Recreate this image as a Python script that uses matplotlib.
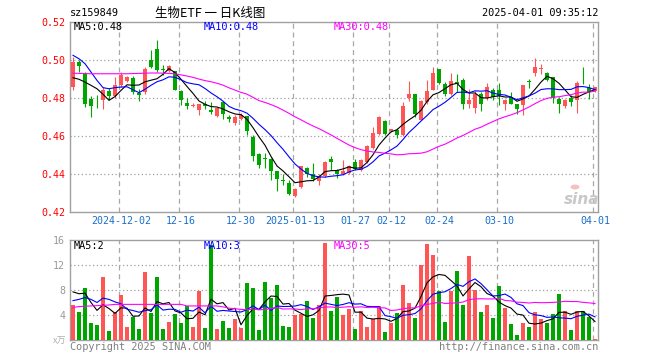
import numpy as np
import pandas as pd
import matplotlib
matplotlib.use("Agg")
import matplotlib.pyplot as plt
from matplotlib.patches import Circle

plt.rcParams['font.family'] = ['DejaVu Sans Mono', 'Noto Sans CJK SC']

# daily OHLC, 2024-11-20 .. 2025-04-01 (88 sessions)
opens = [0.4856, 0.4987, 0.4932, 0.4795, 0.4764, 0.4787, 0.4833, 0.4808, 0.4865, 0.4887,
         0.4905, 0.4824, 0.4830, 0.4996, 0.5058, 0.4948, 0.4940, 0.4938, 0.4833, 0.4774,
         0.4754, 0.4737, 0.4765, 0.4736, 0.4702, 0.4777, 0.4698, 0.4667, 0.4686, 0.4702,
         0.4593, 0.4502, 0.4480, 0.4479, 0.4412, 0.4367, 0.4351, 0.4282, 0.4330, 0.4432,
         0.4400, 0.4360, 0.4387, 0.4479, 0.4418, 0.4400, 0.4405, 0.4461, 0.4418, 0.4461,
         0.4535, 0.4611, 0.4675, 0.4623, 0.4632, 0.4602, 0.4798, 0.4817, 0.4684, 0.4777,
         0.4842, 0.4949, 0.4874, 0.4821, 0.4882, 0.4895, 0.4765, 0.4747, 0.4817, 0.4800,
         0.4842, 0.4840, 0.4768, 0.4805, 0.4765, 0.4762, 0.4888, 0.4929, 0.4950, 0.4929,
         0.4908, 0.4795, 0.4755, 0.4800, 0.4789, 0.4885, 0.4853, 0.4835]
highs = [0.5014, 0.5000, 0.4935, 0.4807, 0.4815, 0.4856, 0.4853, 0.4910, 0.4937, 0.4913,
         0.4912, 0.4847, 0.4961, 0.5053, 0.5105, 0.4974, 0.4970, 0.4940, 0.4838, 0.4798,
         0.4770, 0.4767, 0.4782, 0.4777, 0.4750, 0.4780, 0.4707, 0.4710, 0.4721, 0.4705,
         0.4602, 0.4510, 0.4511, 0.4482, 0.4415, 0.4400, 0.4365, 0.4325, 0.4440, 0.4435,
         0.4458, 0.4400, 0.4465, 0.4493, 0.4427, 0.4470, 0.4447, 0.4475, 0.4475, 0.4550,
         0.4645, 0.4705, 0.4680, 0.4637, 0.4642, 0.4777, 0.4887, 0.4820, 0.4790, 0.4895,
         0.4961, 0.4952, 0.4880, 0.4929, 0.4926, 0.4905, 0.4847, 0.4835, 0.4830, 0.4877,
         0.4850, 0.4877, 0.4795, 0.4830, 0.4768, 0.4865, 0.4897, 0.5008, 0.4979, 0.4935,
         0.4910, 0.4803, 0.4795, 0.4812, 0.4887, 0.4961, 0.4874, 0.4858]
lows = [0.4838, 0.4935, 0.4752, 0.4698, 0.4747, 0.4740, 0.4786, 0.4798, 0.4856, 0.4882,
        0.4822, 0.4782, 0.4817, 0.4956, 0.4935, 0.4918, 0.4935, 0.4838, 0.4760, 0.4738,
        0.4749, 0.4707, 0.4738, 0.4716, 0.4700, 0.4690, 0.4672, 0.4658, 0.4681, 0.4602,
        0.4465, 0.4430, 0.4430, 0.4365, 0.4308, 0.4338, 0.4290, 0.4277, 0.4327, 0.4383,
        0.4359, 0.4338, 0.4385, 0.4418, 0.4377, 0.4395, 0.4400, 0.4418, 0.4415, 0.4458,
        0.4532, 0.4605, 0.4605, 0.4618, 0.4590, 0.4598, 0.4781, 0.4698, 0.4680, 0.4768,
        0.4838, 0.4870, 0.4810, 0.4812, 0.4829, 0.4742, 0.4747, 0.4719, 0.4729, 0.4786,
        0.4786, 0.4759, 0.4737, 0.4765, 0.4716, 0.4708, 0.4853, 0.4912, 0.4926, 0.4890,
        0.4772, 0.4719, 0.4747, 0.4755, 0.4719, 0.4874, 0.4795, 0.4830]
closes = [0.4987, 0.4966, 0.4768, 0.4754, 0.4760, 0.4842, 0.4807, 0.4866, 0.4917, 0.4908,
          0.4829, 0.4814, 0.4949, 0.4960, 0.4947, 0.4945, 0.4965, 0.4842, 0.4786, 0.4757,
          0.4764, 0.4765, 0.4755, 0.4726, 0.4745, 0.4713, 0.4690, 0.4698, 0.4707, 0.4623,
          0.4493, 0.4448, 0.4478, 0.4414, 0.4370, 0.4363, 0.4295, 0.4321, 0.4438, 0.4396,
          0.4370, 0.4390, 0.4461, 0.4462, 0.4401, 0.4412, 0.4443, 0.4427, 0.4470, 0.4545,
          0.4614, 0.4698, 0.4611, 0.4633, 0.4602, 0.4754, 0.4817, 0.4716, 0.4781, 0.4833,
          0.4929, 0.4877, 0.4817, 0.4886, 0.4870, 0.4765, 0.4786, 0.4817, 0.4765, 0.4856,
          0.4803, 0.4808, 0.4786, 0.4767, 0.4742, 0.4865, 0.4885, 0.4961, 0.4958, 0.4895,
          0.4800, 0.4765, 0.4789, 0.4777, 0.4877, 0.4880, 0.4829, 0.4855]
volumes = [5.6, 4.53, 8.37, 2.77, 2.4, 10.13, 1.49, 4.53, 7.2, 2.13,
           3.63, 1.76, 10.93, 4.37, 10.08, 1.76, 2.88, 4.16, 2.77, 5.44,
           2.13, 7.89, 1.97, 15.2, 1.76, 3.09, 1.97, 3.36, 1.97, 9.17,
           8.37, 1.65, 9.33, 6.67, 8.8, 2.29, 2.13, 4.0, 4.16, 6.29,
           3.57, 5.6, 15.57, 4.6, 6.93, 4.0, 4.96, 1.76, 4.64, 2.13,
           3.31, 5.44, 1.33, 2.77, 4.37, 8.8, 5.97, 3.57, 12.05, 15.36,
           13.6, 7.84, 2.88, 7.89, 11.04, 5.6, 13.44, 8.0, 4.53, 5.6,
           3.57, 8.64, 5.17, 2.56, 0.8, 2.77, 2.13, 4.53, 3.31, 2.77,
           4.16, 7.36, 4.64, 1.6, 4.64, 4.64, 3.73, 0.16]

# moving averages before enough sessions are on the chart
ma5_head = [0.4905, 0.4897, 0.4882, 0.4865]
ma10_head = [0.5023, 0.5005, 0.4979, 0.4935, 0.4891, 0.4853, 0.4847, 0.4853, 0.4856]
ma30_head = [0.4929, 0.4928, 0.4927, 0.4926, 0.4926, 0.4926, 0.4926, 0.4926, 0.4926, 0.4926,
             0.4927, 0.4928, 0.4929, 0.4930, 0.4930, 0.4929, 0.4928, 0.4926, 0.4920, 0.4914,
             0.4907, 0.4898, 0.4890, 0.4884, 0.4876, 0.4866, 0.4852, 0.4840, 0.4828]
vma5_head = [7.7, 7.4, 7.5, 6.0]
vma10_head = [6.3, 6.5, 6.8, 6.5, 6.0, 6.7, 6.5, 6.1, 5.8]
vma30_head = [5.2, 5.35, 5.4, 5.45, 5.5, 5.55, 5.6, 5.7, 5.7, 5.7,
              5.7, 5.7, 5.7, 5.7, 5.7, 5.7, 5.7, 5.7, 5.7, 5.45,
              5.45, 5.45, 5.45, 5.45, 5.45, 5.3, 5.1, 5.0, 4.9]

tick_idx = [8, 18, 28, 37, 47, 53, 61, 71, 87]
tick_labels = ['2024-12-02', '12-16', '12-30', '2025-01-13', '01-27',
               '02-12', '02-24', '03-10', '04-01']


def moving(values, n, head):
    s = pd.Series(values).rolling(n).mean()
    s.iloc[:len(head)] = head
    return s.values


o = np.array(opens)
c = np.array(closes)
x = np.arange(len(c))
up = c >= o
RED = '#ff5555'
GREEN = '#00a600'
cols = np.where(up, RED, GREEN)

fig = plt.figure(figsize=(6.6, 3.6), dpi=100)
W, H = 660.0, 360.0
ax = fig.add_axes([70 / W, (H - 211.7) / H, 528 / W, 190 / H])
axv = fig.add_axes([70 / W, (H - 340) / H, 528 / W, 100 / H])

# candles
ax.vlines(x, lows, highs, colors=cols, linewidth=0.8, zorder=3)
body_lo = np.minimum(o, c)
body_h = np.maximum(np.abs(c - o), 0.0004)
ax.bar(x, body_h, bottom=body_lo, width=0.8, color=cols, linewidth=0, zorder=4)

ax.plot(x, moving(closes, 5, ma5_head), color='black', lw=0.8, zorder=5)
ax.plot(x, moving(closes, 10, ma10_head), color='#0000ff', lw=0.8, zorder=5)
ax.plot(x, moving(closes, 30, ma30_head), color='#ff00ff', lw=0.8, zorder=5)

# volume
axv.bar(x, volumes, width=0.8, color=cols, linewidth=0, zorder=3)
axv.plot(x, moving(volumes, 5, vma5_head), color='black', lw=0.8, zorder=5)
axv.plot(x, moving(volumes, 10, vma10_head), color='#0000ff', lw=0.8, zorder=5)
axv.plot(x, moving(volumes, 30, vma30_head), color='#ff00ff', lw=0.8, zorder=5)

grid_x = [i - 0.4 for i in tick_idx]
for a in (ax, axv):
    a.set_xlim(-0.5, len(c) - 0.5)
    for sp in a.spines.values():
        sp.set_color('#a0a0a0')
        sp.set_linewidth(1.0)
    for gx in grid_x:
        a.axvline(gx, color='#a8a8a8', lw=0.9, ls=(0, (4, 3)), zorder=1)
    a.tick_params(length=0, labelsize=7.2)

ax.set_ylim(0.42, 0.52)
ax.set_yticks([0.42, 0.44, 0.46, 0.48, 0.50, 0.52])
ax.set_yticklabels(['0.42', '0.44', '0.46', '0.48', '0.50', '0.52'], color='#ff0000')
for yv in [0.44, 0.46, 0.48, 0.50]:
    ax.axhline(yv, color='#a0a0a0', lw=0.9, ls=(0, (1, 2)), zorder=1)
ax.set_xticks(tick_idx)
ax.set_xticklabels(tick_labels, color='#1a70c8')
ax.tick_params(axis='x', pad=3)
ax.tick_params(axis='y', pad=3)

axv.set_ylim(0, 16)
axv.set_yticks([4, 8, 12, 16])
axv.set_yticklabels(['4', '8', '12', '16'], color='#999999')
axv.set_xticks([])
for yv in [4, 8, 12]:
    axv.axhline(yv, color='#a0a0a0', lw=0.9, ls=(0, (1, 2)), zorder=1)


def px(xp, yp, s, **kw):
    fig.text(xp / W, 1 - yp / H, s, va='center', **kw)


px(70, 13, 'sz159849', fontsize=7.4, color='black')
px(210, 13, '生物ETF 一 日K线图', fontsize=9, color='black', ha='center',
   family=['Noto Sans CJK SC', 'DejaVu Sans'])
px(598, 13, '2025-04-01 09:35:12', fontsize=7.4, color='black', ha='right')

px(74, 27, 'MA5:0.48', fontsize=7.4, color='black')
px(204, 27, 'MA10:0.48', fontsize=7.4, color='#0000ff')
px(334, 27, 'MA30:0.48', fontsize=7.4, color='#ff00ff')

px(74, 246, 'MA5:2', fontsize=7.4, color='black')
px(204, 246, 'MA10:3', fontsize=7.4, color='#0000ff')
px(334, 246, 'MA30:5', fontsize=7.4, color='#ff00ff')

px(66, 341, 'x万', fontsize=6.5, color='#b0b0b0', ha='right',
   family=['Noto Sans CJK SC', 'DejaVu Sans'])
px(70, 347, 'Copyright 2025 SINA.COM', fontsize=7.4, color='#808080')
px(598, 347, 'http://finance.sina.com.cn', fontsize=7.4, color='#808080', ha='right')

# sina watermark: pinkish eye logo above a grey "sina"
px(582, 199, 'sina', fontsize=11, color='#c8c8c8', ha='center', style='italic',
   weight='bold', family=['DejaVu Sans'])
fig.add_artist(Circle((575 / W, 1 - 187 / H), 4.5 / W, transform=fig.transFigure,
                      facecolor='#f6c0c0', edgecolor='none', zorder=6))

fig.savefig('out.png', dpi=100)
